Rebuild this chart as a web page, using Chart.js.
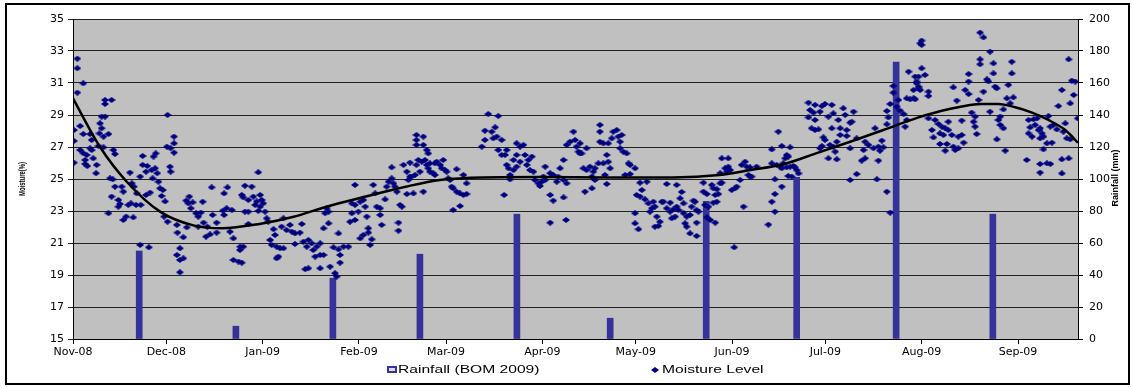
<!DOCTYPE html>
<html>
<head>
<meta charset="utf-8">
<script src="https://cdn.jsdelivr.net/npm/chart.js@4.4.1/dist/chart.umd.min.js"></script>
<style>
    html, body { margin: 0; padding: 0; background: #fff; }
    #wrap { position: relative; width: 1132px; height: 388px; }
</style>
</head>
<body>
<div id="wrap"><canvas id="myChart" width="1132" height="388"></canvas></div>
<script>
// x values are days counted from 1 Nov 2008
var monthDays = [0, 30, 61, 92, 120, 151, 181, 212, 242, 273, 304];
var monthLabels = ["Nov-08", "Dec-08", "Jan-09", "Feb-09", "Mar-09", "Apr-09", "May-09", "Jun-09", "Jul-09", "Aug-09", "Sep-09"];
var lastDay = 323.3;

var moistureTicks = [15, 17, 19, 21, 23, 25, 27, 29, 31, 33, 35];
var rainTicks = [0, 20, 40, 60, 80, 100, 120, 140, 160, 180, 200];

// Rainfall (BOM 2009), mm
var rainDays = [21.3, 52.4, 83.6, 111.6, 142.8, 172.8, 203.7, 232.8, 264.8, 295.9];
var rainMm = [55, 8, 38, 53, 78, 13, 86, 101, 173, 78];

// Moisture level readings [day, %]
var moistureReadings = [
    // Nov-08
    [0.3,28.06],[0.3,27.38],[0.3,26.02],[1.4,32.52],[1.4,31.92],[1.4,30.4],[2.3,28.31],[2.3,26.81],[3.3,30.98],[3.3,27.81],
    [3.3,26.61],[3.9,26.19],[4.4,26.5],[3.9,25.94],[4.6,25.81],[5.5,27.81],[6.0,27.44],[5.5,26.92],[6.0,26.81],[6.5,26.29],
    [7.6,25.88],[7.4,25.36],[8.7,28.48],[9.2,28.17],[8.5,27.85],[8.2,27.06],[9.8,27.65],[9.8,26.98],[9.2,28.9],[10.3,28.9],
    [10.3,29.94],[10.3,29.69],[12.4,29.94],[11.4,27.81],[13.0,26.81],[13.5,26.56],[11.9,25.04],[12.8,24.98],[13.5,24.52],[12.4,23.9],
    [11.4,22.86],[14.6,23.69],[15.1,23.44],[14.6,23.27],[15.7,24.52],[16.2,24.21],[16.2,22.44],[17.1,22.65],[17.8,23.38],[18.6,23.48],
    [18.3,25.4],[18.9,24.73],[19.6,24.52],[19.4,22.6],[20.5,24.1],[20.3,23.38],[21.8,23.38],[21.6,25.15],[21.6,20.88],[24.4,20.73],
    [22.4,26.44],[22.4,25.88],[23.5,25.46],[23.9,25.81],[23.5,24.0],[24.8,24.15],[25.3,25.56],[25.9,26.4],[26.6,26.6],[26.4,25.67],
    [27.1,25.36],[25.6,25.04],[27.5,24.83],[28.0,24.42],[28.9,24.31],[28.5,23.94],[29.6,23.6],
    // Dec-08
    [30.4,29.0],[30.2,27.02],[31.4,26.92],[32.5,27.65],[32.5,27.23],[32.5,26.65],[31.2,25.77],[31.4,25.46],[29.3,22.65],[30.4,22.33],
    [33.4,22.13],[33.6,21.65],[35.5,21.36],[34.4,20.67],[33.4,20.25],[34.4,19.94],[35.5,20.04],[34.4,19.17],[36.6,21.98],[36.4,23.65],
    [37.4,23.9],[37.1,23.48],[37.9,23.17],[38.5,23.54],[39.6,22.86],[40.3,22.65],[41.1,22.9],[41.7,23.58],[40.3,22.02],[42.0,22.27],
    [43.2,22.02],[42.8,21.4],[44.1,21.54],[46.2,21.65],[46.2,22.27],[44.9,22.75],[44.6,24.48],[48.2,23.02],[48.6,22.75],[49.4,23.17],
    [51.1,23.06],[48.6,24.1],[49.7,24.48],[50.5,21.71],[51.6,21.29],[51.6,19.94],[53.2,19.84],[53.8,20.77],[53.7,20.56],[54.3,19.77],
    [54.8,20.77],[55.3,24.58],[57.5,24.52],[54.3,24.0],[54.8,23.85],[56.4,23.69],[58.0,23.9],[59.1,23.6],[60.2,24.0],[60.7,23.69],
    [58.6,23.38],[59.6,25.42],[55.3,22.96],[56.4,22.96],[59.6,23.0],[56.4,22.19],
    // Jan-09
    [61.2,23.48],[60.2,23.27],[61.8,22.96],[62.3,22.54],[62.8,22.33],[64.5,21.86],[65.0,21.5],[63.4,21.19],[63.9,20.88],[65.5,20.77],
    [66.6,20.67],[67.7,20.67],[66.1,20.15],[65.5,20.04],[67.7,22.54],[67.1,22.02],[68.7,21.81],[69.8,22.13],[70.4,21.71],[71.4,21.6],
    [73.0,21.65],[73.6,22.19],[71.4,20.94],[74.1,21.08],[75.2,20.77],[75.7,21.19],[76.8,20.98],[77.3,20.56],[78.4,20.77],[77.9,20.15],
    [79.5,20.98],[79.5,20.25],[80.6,20.25],[74.7,19.36],[75.7,19.42],[79.5,19.42],[82.7,19.52],[83.8,20.73],[84.3,19.11],[84.8,18.9],
    [85.4,20.6],[85.9,20.25],[85.9,19.77],[87.0,20.77],[88.6,20.77],[85.4,21.6],[80.6,21.92],[82.2,22.23],[81.1,22.86],[82.2,22.96],
    [81.6,23.17],[89.7,22.86],[89.1,22.33],[90.7,22.44],[91.8,22.96],[90.7,24.63],[89.7,23.48],[90.7,23.38],
    // Feb-09
    [92.4,23.58],[93.4,23.69],[94.0,23.27],[94.5,22.65],[93.4,21.5],[92.4,21.29],[95.0,21.92],[95.0,21.65],[96.1,21.23],[95.6,20.88],
    [99.3,22.13],[96.6,24.63],[97.2,24.1],[97.7,23.27],[98.8,23.17],[98.8,22.75],[100.4,23.73],[100.9,24.52],[101.5,24.83],[103.1,24.73],
    [102.5,25.04],[103.6,24.52],[104.2,24.21],[105.2,23.38],[105.8,23.27],[104.7,22.27],[104.7,21.77],[102.5,25.73],[106.3,25.88],[107.4,25.46],
    [107.9,24.94],[108.4,25.15],[108.4,26.02],[107.4,24.06],[108.9,25.15],[110.0,25.25],[109.5,24.1],[110.5,25.88],[111.6,25.46],[112.7,24.21],
    [111.1,26.19],[112.2,26.08],[113.2,26.19],[113.8,25.88],[114.3,25.67],[114.8,25.46],[115.9,25.36],[116.4,25.25],[117.0,26.08],[118.1,25.88],
    [119.1,26.19],[118.6,25.67],[119.7,25.56],[116.4,25.98],[110.5,27.75],[112.7,27.65],[110.5,27.44],[110.5,27.13],[112.7,27.13],[113.8,26.81],
    [114.3,26.6],[114.8,25.98],
    // Mar-09
    [120.2,25.46],[121.3,24.94],[121.8,24.52],[122.3,24.42],[123.4,24.21],[124.5,24.1],[125.6,24.0],[126.6,24.06],[123.4,25.61],[125.6,25.25],
    [126.6,24.73],[122.3,23.06],[124.5,23.31],[120.7,25.04],[131.5,27.02],[132.5,27.44],[133.6,29.06],[136.8,28.94],[132.5,28.02],[134.7,27.96],
    [135.8,28.23],[135.2,27.54],[136.3,27.65],[137.9,27.44],[136.8,26.81],[137.9,26.5],[139.5,26.81],[139.0,26.5],[139.5,25.88],[140.1,25.67],
    [140.6,25.25],[140.6,24.98],[141.7,26.19],[142.7,26.5],[142.7,27.23],[143.8,27.02],[144.9,27.13],[141.7,25.56],[142.7,25.77],[143.8,26.08],
    [145.4,26.5],[146.5,26.19],[147.6,26.4],[146.0,25.88],[147.0,25.56],[148.1,25.46],[138.7,24.0],[148.6,24.94],[149.7,24.73],[150.8,24.83],
    [150.2,24.56],
    // Apr-09
    [151.3,25.15],[151.9,24.94],[151.9,25.77],[153.5,25.36],[154.5,25.25],[156.1,25.15],[156.7,25.67],[155.6,24.83],[157.8,24.94],[157.8,26.19],
    [158.8,24.73],[153.5,24.0],[154.5,23.65],[157.8,23.85],[153.5,22.27],[158.6,22.44],[158.8,27.13],[159.9,27.33],[161.0,27.96],[161.5,27.44],
    [162.0,27.02],[162.6,26.71],[163.1,26.6],[163.1,27.23],[163.6,26.6],[165.2,26.92],[164.2,25.67],[165.2,25.56],[166.3,25.77],[167.4,25.46],
    [167.9,25.67],[169.0,25.98],[166.9,25.15],[167.9,24.94],[164.7,24.21],[166.9,24.42],[171.7,24.69],[171.1,25.25],[170.6,25.98],[172.2,26.08],
    [172.8,25.67],[171.7,26.5],[169.5,28.38],[169.5,27.96],[169.5,27.33],[170.6,27.23],[172.2,27.23],[173.3,27.54],[173.8,27.96],[174.9,28.06],
    [175.4,27.65],[176.0,27.33],[176.5,27.75],[176.0,26.92],[177.0,26.71],[178.1,26.6],[178.7,25.98],[179.2,25.88],[180.8,25.67],[177.6,25.25],
    [179.2,25.31],
    // May-09
    [182.4,24.77],[184.6,24.83],[183.0,24.31],[181.3,24.0],[182.4,23.9],[184.0,23.73],[185.1,23.48],[186.2,23.17],[185.6,22.96],[186.7,23.58],
    [187.2,23.27],[180.8,22.86],[180.8,22.23],[181.9,21.86],[187.8,22.65],[188.8,22.33],[188.3,22.06],[187.2,22.02],[189.4,23.58],[189.9,23.58],
    [191.0,24.69],[192.1,23.52],[191.0,23.17],[192.1,22.96],[193.1,23.1],[194.2,23.27],[193.7,22.65],[195.3,23.79],[195.8,24.19],[196.4,23.48],
    [194.2,24.63],[192.6,22.54],[194.8,23.06],[196.4,22.86],[197.4,22.65],[198.5,22.75],[196.9,22.23],[197.4,22.02],[199.0,23.27],[200.1,23.58],
    [200.6,23.06],[201.2,22.96],[200.6,22.27],[198.5,21.6],[200.6,21.44],[199.6,23.65],[202.8,24.77],[202.8,24.21],[203.9,24.06],[203.3,23.38],
    [204.4,23.27],[205.5,24.63],[206.0,24.42],[206.6,24.0],[207.1,24.36],[207.6,24.06],[206.0,23.52],[207.1,23.58],[203.9,22.6],[205.0,22.44],
    [206.6,22.27],[208.2,24.73],[208.2,25.36],[208.7,26.29],[210.8,26.29],[209.8,25.67],[210.3,25.46],[210.8,25.77],[211.4,25.56],[208.7,24.77],
    [211.9,24.31],
    // Jun-09
    [213.0,24.42],[213.5,24.52],[214.6,24.94],[215.1,25.88],[216.2,26.08],[216.7,25.77],[217.3,25.25],[217.8,25.15],[215.7,23.27],[212.7,20.73],
    [217.8,25.73],[218.3,25.15],[219.9,25.77],[224.8,26.85],[226.9,27.96],[228.0,27.06],[230.7,26.98],[224.8,25.98],[226.4,25.88],[227.5,25.77],
    [228.5,25.98],[229.1,26.29],[229.6,26.5],[230.1,26.4],[228.0,25.67],[229.6,25.73],[230.7,25.77],[231.7,25.81],[232.3,25.73],[232.8,25.56],
    [233.4,25.35],[230.1,25.19],[231.2,25.15],[225.8,24.98],[228.0,24.52],[225.8,24.06],[224.8,23.58],[225.8,22.96],[223.7,22.15],[236.6,29.77],
    [238.7,29.63],[240.9,29.56],[241.9,29.69],[237.1,29.31],[238.2,29.15],[236.6,28.85],[238.7,28.69],[240.3,29.21],[237.6,28.17],[238.7,28.06],
    [239.8,28.1],[241.4,27.6],[241.9,27.44],[240.9,27.06],[240.3,26.92],
    // Jul-09
    [244.1,29.63],[243.0,28.9],[244.6,29.1],[246.2,28.69],[247.8,29.42],[248.4,29.0],[251.1,29.21],[250.0,28.52],[250.5,28.58],[244.1,28.17],
    [246.8,28.17],[248.9,28.06],[246.8,27.75],[248.9,27.69],[243.5,27.13],[245.7,27.33],[244.6,27.02],[245.2,26.71],[252.1,27.54],[250.0,26.92],
    [243.0,26.29],[245.7,26.23],[254.8,27.33],[255.9,27.13],[254.3,26.81],[254.8,26.29],[253.7,26.15],[252.1,25.31],[250.0,24.94],[258.0,28.17],
    [257.5,26.92],[259.1,27.02],[260.2,27.4],[260.7,26.98],[259.6,26.77],[259.1,26.15],[258.6,24.98],[261.8,24.21],[262.9,22.9],[261.8,29.25],
    [262.9,29.69],[262.3,28.85],[261.8,28.42],[263.9,30.81],[263.9,30.4],[265.0,29.52],[265.5,29.94],[266.1,29.27],[267.2,29.06],[267.7,28.27],
    [268.2,28.69],[268.2,30.04],[269.3,29.98],[270.4,30.04],[268.8,31.71],[270.9,31.4],[271.4,30.98],[272.0,30.67],[270.4,30.56],[272.5,33.48],
    [273.0,31.92],
    // Aug-09
    [273.0,33.65],[273.0,33.38],[272.0,31.4],[274.1,31.5],[271.4,31.09],[272.0,30.77],[272.5,30.56],[275.2,30.46],[275.2,30.19],[270.9,29.98],
    [275.2,28.79],[276.3,28.06],[277.3,28.69],[278.4,28.44],[279.5,28.27],[280.6,28.17],[281.6,28.06],[278.9,27.85],[280.0,27.75],[276.8,27.6],
    [278.9,27.19],[281.1,27.19],[280.6,26.77],[283.2,27.02],[283.8,26.81],[284.8,26.92],[282.7,27.75],[284.8,27.65],[285.9,27.75],[286.5,27.27],
    [281.6,28.58],[283.2,30.73],[284.3,29.9],[285.9,28.65],[287.0,30.56],[288.1,30.31],[288.1,31.09],[288.1,31.56],[289.1,29.15],[289.7,28.58],
    [290.2,28.27],[290.7,27.81],[290.2,28.9],[291.3,29.94],[291.8,34.15],[292.9,33.85],[291.8,32.48],[291.8,32.17],[292.9,30.46],[294.0,31.23],
    [294.5,31.1],[295.0,32.96],[296.1,32.23],[296.1,31.6],[295.0,29.21],[296.6,30.77],[297.2,30.67],[297.7,28.69],[298.3,28.38],[299.3,28.17],
    [298.3,28.9],[297.2,27.48],[299.9,26.77],[300.4,30.04],[299.3,29.35],[300.9,30.88],[301.5,29.73],[302.0,32.33],[302.0,31.6],[302.5,30.1],
    // Sep-09
    [306.8,26.19],[307.4,28.69],[307.9,28.23],[307.4,27.85],[308.5,27.65],[309.0,28.73],[310.1,28.79],[309.5,28.38],[311.1,28.17],[311.7,27.85],
    [311.1,27.54],[312.2,27.65],[310.6,28.06],[312.2,26.85],[313.3,27.23],[313.8,28.94],[314.9,27.27],[314.4,28.27],[315.4,28.38],[316.5,28.1],
    [317.0,29.56],[318.1,30.56],[318.6,27.96],[319.2,28.48],[319.7,27.54],[320.8,27.48],[320.8,29.73],[321.9,30.25],[321.3,31.15],[322.4,31.09],
    [320.3,32.48],[323.2,28.79],[311.1,25.4],[311.1,25.94],[313.3,25.98],[314.4,25.94],[318.1,26.23],[320.3,26.29],[318.1,25.35]
];

// polynomial trend line as drawn
var trendDays = [0, 8.7, 17.3, 28, 38.7, 48, 60, 71, 81.6, 92, 107, 118, 132, 150, 172, 193, 208, 218, 228.5, 239, 250, 260.7, 272, 281.6, 292.4, 297.7, 303.1, 308.5, 313.8, 319.2, 323.3];
var trendLevels = [30.04, 27.0, 24.83, 22.96, 22.1, 21.92, 22.19, 22.64, 23.27, 23.8, 24.52, 24.94, 25.1, 25.12, 25.1, 25.1, 25.25, 25.56, 25.92, 26.6, 27.33, 28.06, 28.85, 29.36, 29.69, 29.69, 29.48, 29.15, 28.69, 28.06, 27.27];

var tickFont = { family: "'DejaVu Sans', sans-serif", size: 11 };
var rainColor = '#333399';
var dotColor = '#000080';

// small excel style diamond marker
var diamond = document.createElement('canvas');
diamond.width = 8;
diamond.height = 6;
var dctx = diamond.getContext('2d');
dctx.fillStyle = dotColor;
dctx.beginPath();
dctx.moveTo(0, 3);
dctx.lineTo(4, 0);
dctx.lineTo(8, 3);
dctx.lineTo(4, 6);
dctx.closePath();
dctx.fill();

var framePlugin = {
    id: 'frame',
    beforeDraw: function (chart) {
        var c = chart.ctx;
        var a = chart.chartArea;
        c.save();
        c.fillStyle = '#ffffff';
        c.fillRect(0, 0, chart.width, chart.height);
        c.fillStyle = '#c0c0c0';
        c.fillRect(a.left, a.top, a.right - a.left, a.bottom - a.top);
        c.restore();
    },
    afterDraw: function (chart) {
        var c = chart.ctx;
        c.save();
        c.strokeStyle = '#000';
        c.lineWidth = 2;
        c.strokeRect(6, 4, 1123, 380);

        // axis titles
        c.fillStyle = '#000';
        c.textAlign = 'center';
        c.textBaseline = 'middle';
        c.font = "bold 7px 'Liberation Sans', Arial, sans-serif";
        c.translate(22, 179);
        c.rotate(-Math.PI / 2);
        c.scale(0.85, 1.3);
        c.fillText('Moisture(%)', 0, 0);
        c.restore();

        c.save();
        c.fillStyle = '#000';
        c.textAlign = 'center';
        c.textBaseline = 'middle';
        c.font = "bold 9px 'Liberation Sans', Arial, sans-serif";
        c.translate(1116, 178);
        c.rotate(-Math.PI / 2);
        c.fillText('Rainfall (mm)', 0, 0);
        c.restore();

        // legend
        var ds = chart.data.datasets;
        c.save();
        c.fillStyle = rainColor;
        c.fillRect(387, 366, 10, 7);
        c.fillStyle = '#dcdcf0';
        c.fillRect(389, 368, 6, 3);
        c.drawImage(diamond, 651, 367);
        c.fillStyle = '#000';
        c.textBaseline = 'middle';
        c.textAlign = 'left';
        c.font = "11px 'Liberation Sans', Arial, sans-serif";
        c.save();
        c.translate(398, 370);
        c.scale(1.42, 1);
        c.fillText(ds[2].label, 0, 0);
        c.restore();
        c.save();
        c.translate(662, 370);
        c.scale(1.42, 1);
        c.fillText(ds[1].label, 0, 0);
        c.restore();
        c.restore();
    }
};

var chartCtx = document.getElementById('myChart');
var myChart = new Chart(chartCtx, {
    type: 'bar',
    data: {
        datasets: [
            {
                type: 'line',
                label: 'Poly. (Moisture Level)',
                data: trendDays.map(function (d, i) { return { x: d, y: trendLevels[i] }; }),
                yAxisID: 'y',
                borderColor: '#000',
                borderWidth: 2.5,
                pointRadius: 0,
                fill: false,
                cubicInterpolationMode: 'monotone',
                order: 1
            },
            {
                type: 'scatter',
                label: 'Moisture Level',
                data: moistureReadings.map(function (r) { return { x: r[0], y: r[1] }; }),
                yAxisID: 'y',
                pointStyle: diamond,
                pointRadius: 3,
                backgroundColor: dotColor,
                borderColor: dotColor,
                order: 2
            },
            {
                type: 'bar',
                label: 'Rainfall (BOM 2009)',
                data: rainDays.map(function (d, i) { return { x: d, y: rainMm[i] }; }),
                yAxisID: 'y2',
                backgroundColor: rainColor,
                borderWidth: 0,
                barThickness: 6,
                order: 3
            }
        ]
    },
    options: {
        responsive: false,
        animation: false,
        events: [],
        layout: { padding: { top: 19, left: 0, right: 0, bottom: 0 } },
        plugins: {
            legend: { display: false },
            tooltip: { enabled: false },
            title: { display: false }
        },
        scales: {
            x: {
                type: 'linear',
                min: 0,
                max: lastDay,
                offset: false,
                afterBuildTicks: function (scale) {
                    scale.ticks = monthDays.map(function (d) { return { value: d }; });
                },
                afterFit: function (scale) { scale.height = 49; },
                grid: { drawOnChartArea: false, drawTicks: true, tickLength: 5, color: '#000', offset: false },
                border: { color: '#000', width: 1 },
                ticks: {
                    autoSkip: false,
                    maxRotation: 0,
                    padding: 2,
                    color: '#000',
                    font: tickFont,
                    callback: function (v) { return monthLabels[monthDays.indexOf(v)]; }
                }
            },
            y: {
                position: 'left',
                min: 15,
                max: 35,
                afterBuildTicks: function (scale) {
                    scale.ticks = moistureTicks.map(function (v) { return { value: v }; });
                },
                afterFit: function (scale) { scale.width = 73; },
                grid: { color: '#222', lineWidth: 1, tickLength: 5 },
                border: { color: '#000', width: 1 },
                ticks: { padding: 4, color: '#000', font: tickFont }
            },
            y2: {
                position: 'right',
                min: 0,
                max: 200,
                afterBuildTicks: function (scale) {
                    scale.ticks = rainTicks.map(function (v) { return { value: v }; });
                },
                afterFit: function (scale) { scale.width = 54; },
                grid: { drawOnChartArea: false, color: '#000', tickLength: 5 },
                border: { color: '#000', width: 1 },
                ticks: { padding: 6, color: '#000', font: tickFont }
            }
        }
    },
    plugins: [framePlugin]
});
</script>
</body>
</html>
